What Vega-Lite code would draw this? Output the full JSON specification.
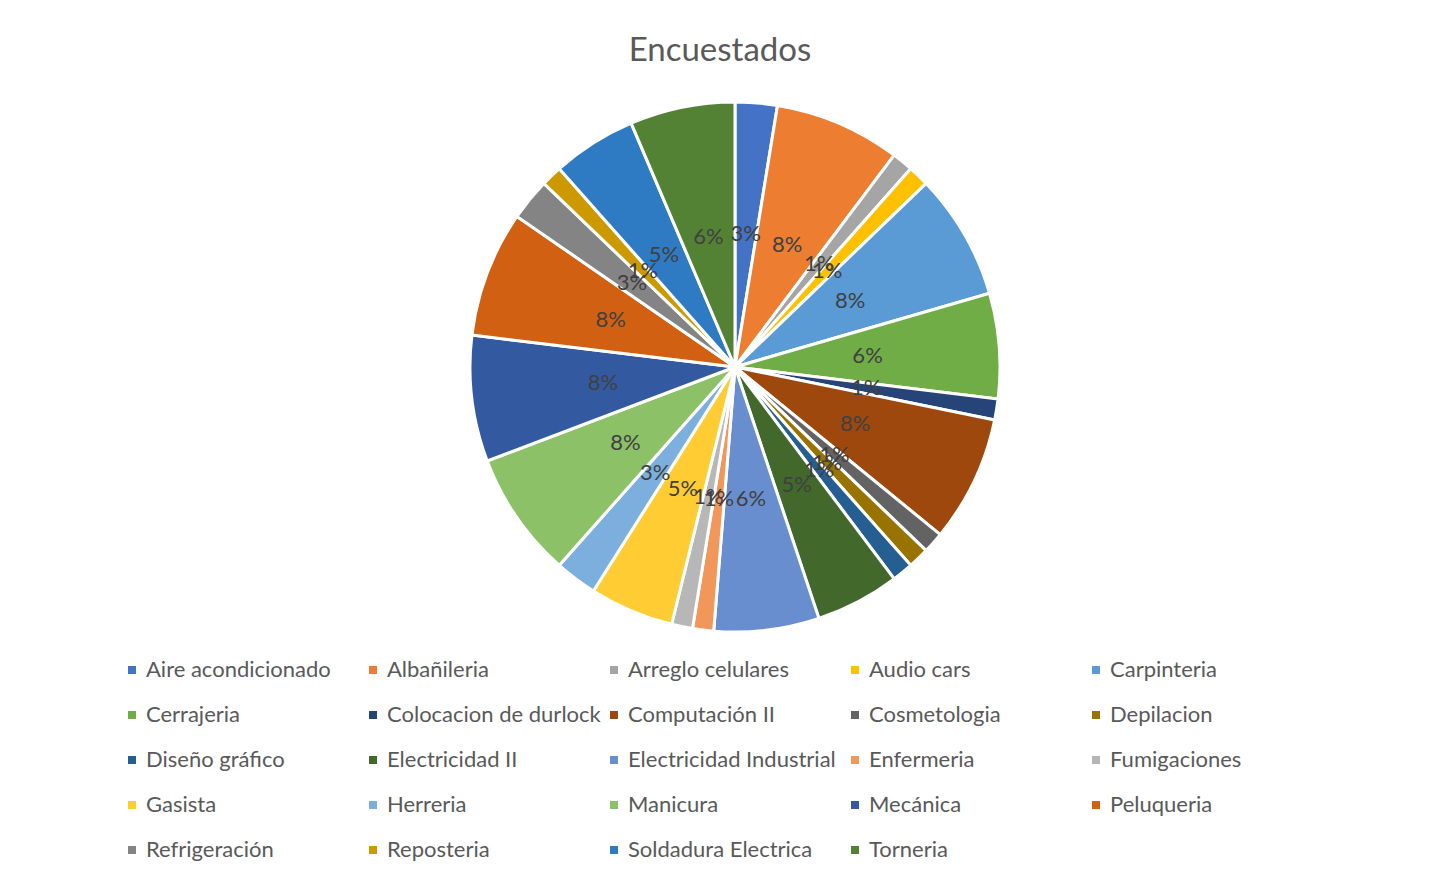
{
  "$schema": "https://vega.github.io/schema/vega-lite/v6.json",
  "width": 1412,
  "height": 540,
  "padding": {"top": 35, "left": 29, "right": 1, "bottom": 0},
  "background": "white",
  "title": {"text": "Encuestados", "fontSize": 33, "font": "Lato", "fontWeight": "normal", "color": "#595959", "offset": 28, "anchor": "middle", "dx": -15},
  "data": {"values": [
    {"o": 1, "curso": "Aire acondicionado", "n": 2, "pct": "3%"},
    {"o": 2, "curso": "Albañileria", "n": 6, "pct": "8%"},
    {"o": 3, "curso": "Arreglo celulares", "n": 1, "pct": "1%"},
    {"o": 4, "curso": "Audio cars", "n": 1, "pct": "1%"},
    {"o": 5, "curso": "Carpinteria", "n": 6, "pct": "8%"},
    {"o": 6, "curso": "Cerrajeria", "n": 5, "pct": "6%"},
    {"o": 7, "curso": "Colocacion de durlock", "n": 1, "pct": "1%"},
    {"o": 8, "curso": "Computación II", "n": 6, "pct": "8%"},
    {"o": 9, "curso": "Cosmetologia", "n": 1, "pct": "1%"},
    {"o": 10, "curso": "Depilacion", "n": 1, "pct": "1%"},
    {"o": 11, "curso": "Diseño gráfico", "n": 1, "pct": "1%"},
    {"o": 12, "curso": "Electricidad II", "n": 4, "pct": "5%"},
    {"o": 13, "curso": "Electricidad Industrial", "n": 5, "pct": "6%"},
    {"o": 14, "curso": "Enfermeria", "n": 1, "pct": "1%"},
    {"o": 15, "curso": "Fumigaciones", "n": 1, "pct": "1%"},
    {"o": 16, "curso": "Gasista", "n": 4, "pct": "5%"},
    {"o": 17, "curso": "Herreria", "n": 2, "pct": "3%"},
    {"o": 18, "curso": "Manicura", "n": 6, "pct": "8%"},
    {"o": 19, "curso": "Mecánica", "n": 6, "pct": "8%"},
    {"o": 20, "curso": "Peluqueria", "n": 6, "pct": "8%"},
    {"o": 21, "curso": "Refrigeración", "n": 2, "pct": "3%"},
    {"o": 22, "curso": "Reposteria", "n": 1, "pct": "1%"},
    {"o": 23, "curso": "Soldadura Electrica", "n": 4, "pct": "5%"},
    {"o": 24, "curso": "Torneria", "n": 5, "pct": "6%"}
  ]},
  "encoding": {
    "theta": {"field": "n", "type": "quantitative", "stack": true},
    "order": {"field": "o", "type": "quantitative"}
  },
  "layer": [
    {
      "mark": {"type": "arc", "outerRadius": 265, "stroke": "white", "strokeWidth": 3},
      "encoding": {
        "color": {
          "field": "curso", "type": "nominal",
          "scale": {
            "domain": ["Aire acondicionado", "Albañileria", "Arreglo celulares", "Audio cars", "Carpinteria", "Cerrajeria", "Colocacion de durlock", "Computación II", "Cosmetologia", "Depilacion", "Diseño gráfico", "Electricidad II", "Electricidad Industrial", "Enfermeria", "Fumigaciones", "Gasista", "Herreria", "Manicura", "Mecánica", "Peluqueria", "Refrigeración", "Reposteria", "Soldadura Electrica", "Torneria"],
            "range": ["#4472C4", "#ED7D31", "#A5A5A5", "#FFC000", "#5B9BD5", "#70AD47", "#264478", "#9E480E", "#636363", "#997300", "#255E91", "#43682B", "#698ED0", "#F1975A", "#B7B7B7", "#FFCD33", "#7CAFDD", "#8CC168", "#335AA1", "#D26012", "#848484", "#CC9A00", "#2E7BC4", "#548235"]
          },
          "legend": {
            "title": null,
            "orient": "none",
            "legendX": 92,
            "legendY": 562,
            "direction": "horizontal",
            "columns": 5,
            "gridAlign": "all",
            "symbolType": "square",
            "symbolSize": 64,
            "symbolStrokeWidth": 0,
            "symbolOffset": 0,
            "labelFont": "Lato",
            "labelFontSize": 22,
            "labelColor": "#595959",
            "labelOffset": 3,
            "labelLimit": 300,
            "columnPadding": 2,
            "rowPadding": 23
          }
        }
      }
    },
    {
      "mark": {"type": "text", "radius": 133, "font": "Lato", "fontSize": 22, "color": "#404040"},
      "encoding": {"text": {"field": "pct", "type": "nominal"}}
    }
  ],
  "config": {"view": {"stroke": null}}
}
